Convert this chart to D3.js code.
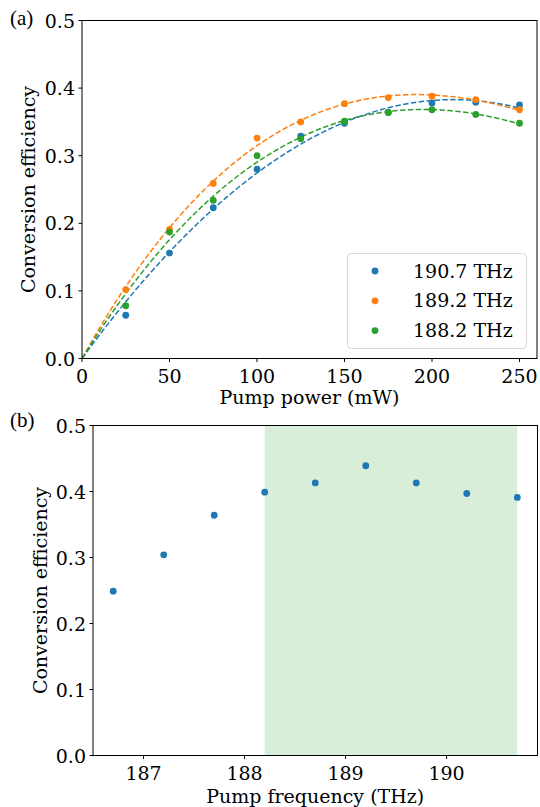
<!DOCTYPE html>
<html>
<head>
<meta charset="utf-8">
<script src="https://cdn.jsdelivr.net/npm/d3@7"></script>
<style>
  html, body { margin: 0; padding: 0; background: #fff; }
  svg { display: block; }
  text { font-family: "DejaVu Serif", serif; fill: #000; }
</style>
</head>
<body>
<svg id="chart" width="540" height="807"></svg>
<script>
// ---------- DATA ----------
const powers = [25, 50, 75, 100, 125, 150, 175, 200, 225, 250];
const seriesNames = ["190.7 THz", "189.2 THz", "188.2 THz"];
const seriesColors = ["#1f77b4", "#ff7f0e", "#2ca02c"];
const eff1907 = [0.064, 0.156, 0.223, 0.280, 0.329, 0.348, 0.364, 0.378, 0.379, 0.375];
const eff1892 = [0.102, 0.191, 0.259, 0.326, 0.350, 0.377, 0.386, 0.388, 0.383, 0.368];
const eff1882 = [0.078, 0.187, 0.234, 0.300, 0.325, 0.351, 0.364, 0.368, 0.361, 0.348];
const topXTicks = [0, 50, 100, 150, 200, 250];
const yTicks = [0.0, 0.1, 0.2, 0.3, 0.4, 0.5];

const freqs = [186.7, 187.2, 187.7, 188.2, 188.7, 189.2, 189.7, 190.2, 190.7];
const freqEff = [0.249, 0.304, 0.364, 0.399, 0.413, 0.439, 0.413, 0.397, 0.391];
const bottomXTicks = [187, 188, 189, 190];
const shadeRange = [188.2, 190.7];

// ---------- SETUP ----------
const svg = d3.select("#chart");
const FS = 19;

function drawAxesFrame(g, x, y, xTicks, yTicksArr, xFmt) {
  const [x0, x1] = x.range();
  const [y0, y1] = y.range();
  g.selectAll(".xt").data(xTicks).join("line")
    .attr("x1", d => x(d)).attr("x2", d => x(d))
    .attr("y1", y0).attr("y2", y0 + 3.5)
    .attr("stroke", "#000").attr("stroke-width", 1);
  g.selectAll(".xtl").data(xTicks).join("text")
    .attr("x", d => x(d)).attr("y", y0 + 24)
    .attr("text-anchor", "middle").attr("font-size", FS)
    .text(xFmt);
  g.selectAll(".yt").data(yTicksArr).join("line")
    .attr("x1", x0 - 3.5).attr("x2", x0)
    .attr("y1", d => y(d)).attr("y2", d => y(d))
    .attr("stroke", "#000").attr("stroke-width", 1);
  g.selectAll(".ytl").data(yTicksArr).join("text")
    .attr("x", x0 - 7).attr("y", d => y(d) + 7)
    .attr("text-anchor", "end").attr("font-size", FS)
    .text(d3.format(".1f"));
  g.append("rect")
    .attr("x", x0).attr("y", y1)
    .attr("width", x1 - x0).attr("height", y0 - y1)
    .attr("fill", "none").attr("stroke", "#000").attr("stroke-width", 1);
}

// ---------- TOP PANEL ----------
const xTop = d3.scaleLinear().domain([0, 260]).range([82, 537]);
const yTop = d3.scaleLinear().domain([0, 0.5]).range([358.5, 20.5]);
const gTop = svg.append("g");

const seriesVals = [eff1907, eff1892, eff1882];

// least-squares polynomial fit through origin: y = sum c_k x^k, k=1..deg
function fitPoly(xs, ys, deg) {
  const n = deg;
  const A = Array.from({length: n}, () => new Array(n + 1).fill(0));
  xs.forEach((xv, i) => {
    const x = xv / 100;
    const phi = d3.range(1, deg + 1).map(k => Math.pow(x, k));
    for (let r = 0; r < n; r++) {
      for (let c = 0; c < n; c++) A[r][c] += phi[r] * phi[c];
      A[r][n] += phi[r] * ys[i];
    }
  });
  for (let p = 0; p < n; p++) {
    let max = p;
    for (let r = p + 1; r < n; r++) if (Math.abs(A[r][p]) > Math.abs(A[max][p])) max = r;
    [A[p], A[max]] = [A[max], A[p]];
    for (let r = p + 1; r < n; r++) {
      const f = A[r][p] / A[p][p];
      for (let c = p; c <= n; c++) A[r][c] -= f * A[p][c];
    }
  }
  const coef = new Array(n).fill(0);
  for (let r = n - 1; r >= 0; r--) {
    let s = A[r][n];
    for (let c = r + 1; c < n; c++) s -= A[r][c] * coef[c];
    coef[r] = s / A[r][r];
  }
  return xv => { const x = xv / 100; return coef.reduce((s, c, k) => s + c * Math.pow(x, k + 1), 0); };
}

const line = d3.line().x(d => xTop(d[0])).y(d => yTop(d[1]));
svg.append("clipPath").attr("id", "clipTop").append("rect")
  .attr("x", 82).attr("y", 20.5).attr("width", 455).attr("height", 338);

seriesVals.forEach((vals, i) => {
  const f = fitPoly(powers, vals, 3);
  const pts = d3.range(0, 250.001, 2.5).map(p => [p, f(p)]);
  gTop.append("path")
    .attr("d", line(pts))
    .attr("fill", "none")
    .attr("stroke", seriesColors[i])
    .attr("stroke-width", 1.5)
    .attr("stroke-dasharray", "5.5,2.4")
    .attr("clip-path", "url(#clipTop)");
});
seriesVals.forEach((vals, i) => {
  gTop.selectAll(null).data(vals).join("circle")
    .attr("cx", (d, j) => xTop(powers[j]))
    .attr("cy", d => yTop(d))
    .attr("r", 3.4)
    .attr("fill", seriesColors[i]);
});

drawAxesFrame(gTop, xTop, yTop, topXTicks, yTicks, d3.format("d"));

// legend
const leg = gTop.append("g");
leg.append("rect")
  .attr("x", 347.5).attr("y", 253.5).attr("width", 179).attr("height", 95)
  .attr("rx", 4).attr("ry", 4)
  .attr("fill", "#fff").attr("fill-opacity", 0.8)
  .attr("stroke", "#d8d8d8").attr("stroke-width", 1);
seriesNames.forEach((name, i) => {
  const cy = 271 + i * 29.8;
  leg.append("circle").attr("cx", 375).attr("cy", cy).attr("r", 3.4).attr("fill", seriesColors[i]);
  leg.append("text").attr("x", 413).attr("y", cy + 6.5).attr("font-size", FS).text(name);
});

gTop.append("text")
  .attr("x", (82 + 537) / 2).attr("y", 404)
  .attr("text-anchor", "middle").attr("font-size", FS)
  .text("Pump power (mW)");
gTop.append("text")
  .attr("transform", `translate(35,${(20.5 + 358.5) / 2}) rotate(-90)`)
  .attr("text-anchor", "middle").attr("font-size", FS)
  .text("Conversion efficiency");
gTop.append("text")
  .attr("x", 10).attr("y", 25)
  .style("font-family", "'Liberation Serif', serif")
  .attr("font-size", 21)
  .attr("fill", "#333")
  .text("(a)");

// ---------- BOTTOM PANEL ----------
const xBot = d3.scaleLinear().domain([186.5, 190.9]).range([93, 537.5]);
const yBot = d3.scaleLinear().domain([0, 0.5]).range([755.5, 425.5]);
const gBot = svg.append("g");

gBot.append("rect")
  .attr("x", xBot(shadeRange[0])).attr("y", 425.5)
  .attr("width", xBot(shadeRange[1]) - xBot(shadeRange[0]))
  .attr("height", 330)
  .attr("fill", "#2ca02c").attr("fill-opacity", 0.18);

gBot.selectAll(null).data(freqEff).join("circle")
  .attr("cx", (d, j) => xBot(freqs[j]))
  .attr("cy", d => yBot(d))
  .attr("r", 3.4)
  .attr("fill", "#1f77b4");

drawAxesFrame(gBot, xBot, yBot, bottomXTicks, yTicks, d3.format("d"));

gBot.append("text")
  .attr("x", (93 + 537.5) / 2).attr("y", 803)
  .attr("text-anchor", "middle").attr("font-size", FS)
  .text("Pump frequency (THz)");
gBot.append("text")
  .attr("transform", `translate(47,${(425.5 + 755.5) / 2}) rotate(-90)`)
  .attr("text-anchor", "middle").attr("font-size", FS)
  .text("Conversion efficiency");
gBot.append("text")
  .attr("x", 10).attr("y", 427)
  .style("font-family", "'Liberation Serif', serif")
  .attr("font-size", 21)
  .attr("fill", "#333")
  .text("(b)");
</script>
</body>
</html>
